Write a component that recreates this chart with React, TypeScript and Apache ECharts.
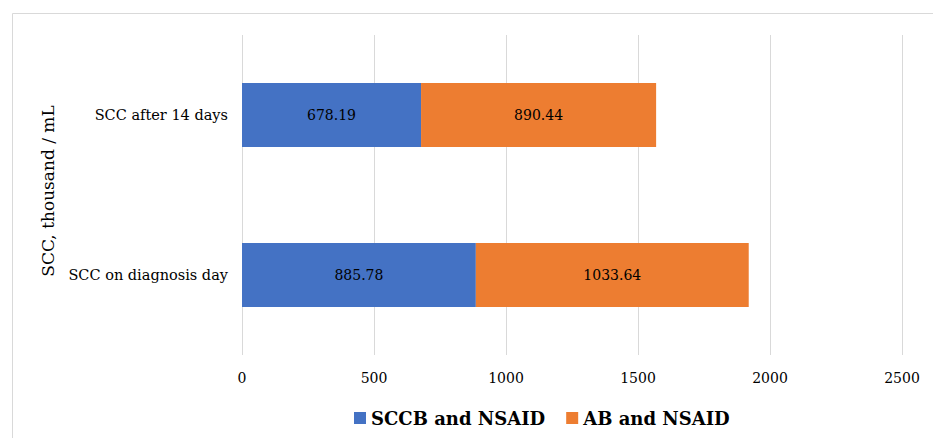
import React, { useEffect, useRef } from "react";
import * as echarts from "echarts";

const categories = ["SCC on diagnosis day", "SCC after 14 days"];
const seriesNames = ["SCCB and NSAID", "AB and NSAID"];
const sccbValues = [885.78, 678.19];
const abValues = [1033.64, 890.44];
const xTicks = { min: 0, max: 2500, interval: 500 };

const FONT = "DejaVu Serif";

export default function App() {
  const ref = useRef<HTMLDivElement>(null);
  useEffect(() => {
    document.body.style.margin = "0";
    const chart = echarts.init(ref.current!, null, { renderer: "svg" });
    const labelStyle = {
      show: true,
      position: "inside",
      color: "#000",
      fontFamily: FONT,
      fontSize: 14,
      formatter: (p: any) => p.value.toFixed(2),
    };
    chart.setOption({
      animation: false,
      backgroundColor: "#fff",
      textStyle: { fontFamily: FONT },
      graphic: [
        {
          type: "rect",
          shape: { x: 12.5, y: 13.5, width: 1000, height: 1000 },
          style: { fill: "none", stroke: "#d9d9d9", lineWidth: 1 },
          silent: true,
        },
      ],
      grid: { left: 242, right: 31, top: 35, bottom: 83, containLabel: false },
      legend: {
        bottom: 6,
        left: 349,
        itemWidth: 12,
        itemHeight: 12,
        itemGap: 21,
        icon: "rect",
        textStyle: { fontFamily: FONT, fontSize: 18, fontWeight: "bold", color: "#000" },
        data: seriesNames,
      },
      xAxis: {
        type: "value",
        min: xTicks.min,
        max: xTicks.max,
        interval: xTicks.interval,
        axisLine: { show: false },
        axisTick: { show: false },
        splitLine: { lineStyle: { color: "#d9d9d9", width: 1 } },
        axisLabel: {
          color: "#000",
          fontFamily: FONT,
          fontSize: 14,
          margin: 16,
          formatter: (v: number) => String(v),
        },
      },
      yAxis: {
        type: "category",
        data: categories,
        name: "SCC, thousand / mL",
        nameLocation: "middle",
        nameRotate: 90,
        nameGap: 186,
        nameTextStyle: { color: "#000", fontFamily: FONT, fontSize: 17, padding: [0, 0, 0, 8] },
        axisLine: { show: false },
        axisTick: { show: false },
        axisLabel: { color: "#000", fontFamily: FONT, fontSize: 14.5, margin: 14 },
      },
      series: [
        {
          name: seriesNames[0],
          type: "bar",
          stack: "total",
          data: sccbValues,
          barWidth: "40%",
          itemStyle: { color: "#4472C4" },
          label: labelStyle,
        },
        {
          name: seriesNames[1],
          type: "bar",
          stack: "total",
          data: abValues,
          barWidth: "40%",
          itemStyle: { color: "#ED7D31" },
          label: labelStyle,
        },
      ],
    });
    return () => chart.dispose();
  }, []);
  return <div ref={ref} style={{ width: 933, height: 438 }} />;
}
